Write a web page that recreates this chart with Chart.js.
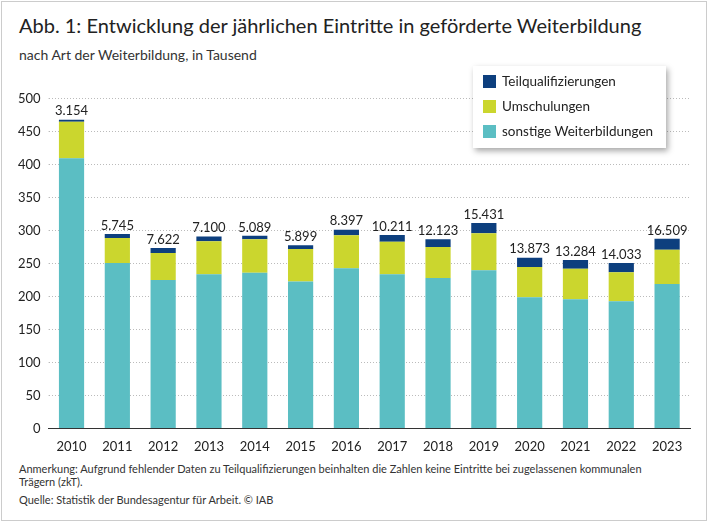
<!DOCTYPE html>
<html><head><meta charset="utf-8">
<script src="https://cdn.jsdelivr.net/npm/chart.js@4"></script>
<style>
body{margin:0;background:#fff;font-family:Lato,sans-serif;color:#222}
#frame{position:absolute;left:1px;top:1px;width:706px;height:520px;border:1px solid #ccc;box-sizing:border-box}
#title{position:absolute;left:19px;top:13px;font-size:20px}
#sub{position:absolute;left:19px;top:46px;font-size:14px;color:#333}
#wrap{position:absolute;left:10px;top:83px;width:690px;height:375px}
#legend{position:absolute;left:473px;top:66px;width:193px;height:82px;background:#fff;box-shadow:2px 3px 6px rgba(0,0,0,.35);font-size:13.5px;padding:6px 0 0 10px;box-sizing:border-box}
#legend div{height:25px;line-height:18px}
#legend span{display:inline-block;width:13px;height:13px;margin-right:6px;vertical-align:-2px}
#note{position:absolute;left:19px;top:462px;font-size:11px;line-height:13px;width:640px;color:#333}
</style></head><body>
<div id="frame"></div>
<div id="title">Abb. 1: Entwicklung der jährlichen Eintritte in geförderte Weiterbildung</div>
<div id="sub">nach Art der Weiterbildung, in Tausend</div>
<div id="wrap"><canvas id="c"></canvas></div>
<div id="legend">
<div><span style="background:#0d3f7e"></span>Teilqualifizierungen</div>
<div><span style="background:#cbd62e"></span>Umschulungen</div>
<div><span style="background:#5bbec3"></span>sonstige Weiterbildungen</div>
</div>
<div id="note">Anmerkung: Aufgrund fehlender Daten zu Teilqualifizierungen beinhalten die Zahlen keine Eintritte bei zugelassenen kommunalen Trägern (zkT).<div style="margin-top:5px">Quelle: Statistik der Bundesagentur für Arbeit. © IAB</div></div>
<script>
const years = ['2010','2011','2012','2013','2014','2015','2016','2017','2018','2019','2020','2021','2022','2023'];
const sonstige = [410, 251, 225, 234, 236, 223, 243, 234, 228, 240, 199, 196, 193, 219];
const umschulungen = [55, 38, 41, 50, 51, 49, 50, 49, 47, 56, 46, 46, 44, 52];
const teil = [3.154, 5.745, 7.622, 7.1, 5.089, 5.899, 8.397, 10.211, 12.123, 15.431, 13.873, 13.284, 14.033, 16.509];
const teilLabels = ['3.154','5.745','7.622','7.100','5.089','5.899','8.397','10.211','12.123','15.431','13.873','13.284','14.033','16.509'];

const topLabels = {
  id: 'topLabels',
  afterDatasetsDraw(chart) {
    const ctx = chart.ctx;
    const meta = chart.getDatasetMeta(2);
    ctx.save();
    ctx.font = '13px Lato';
    ctx.fillStyle = '#222';
    ctx.textAlign = 'center';
    ctx.textBaseline = 'bottom';
    meta.data.forEach((bar, i) => ctx.fillText(teilLabels[i], bar.x, bar.y - 2));
    ctx.restore();
  }
};

new Chart(document.getElementById('c'), {
  type: 'bar',
  data: {
    labels: years,
    datasets: [
      { label: 'sonstige Weiterbildungen', data: sonstige, backgroundColor: '#5bbec3' },
      { label: 'Umschulungen', data: umschulungen, backgroundColor: '#cbd62e' },
      { label: 'Teilqualifizierungen', data: teil, backgroundColor: '#0d3f7e' }
    ]
  },
  options: {
    responsive: true, maintainAspectRatio: false, animation: false,
    layout: { padding: { right: 10, top: 10 } },
    datasets: { bar: { categoryPercentage: 1, barPercentage: 0.55 } },
    plugins: { legend: { display: false }, tooltip: { enabled: false } },
    scales: {
      x: { stacked: true, grid: { display: false }, border: { color: '#333' },
           ticks: { color: '#222', font: { family: 'Lato', size: 13 } } },
      y: { stacked: true, min: 0, max: 500,
           grid: { color: '#bbb', tickLength: 0 }, border: { display: false, dash: [1, 2] },
           ticks: { stepSize: 50, color: '#222', padding: 8, font: { family: 'Lato', size: 13 } } }
    }
  },
  plugins: [topLabels]
});
</script>
</body></html>
